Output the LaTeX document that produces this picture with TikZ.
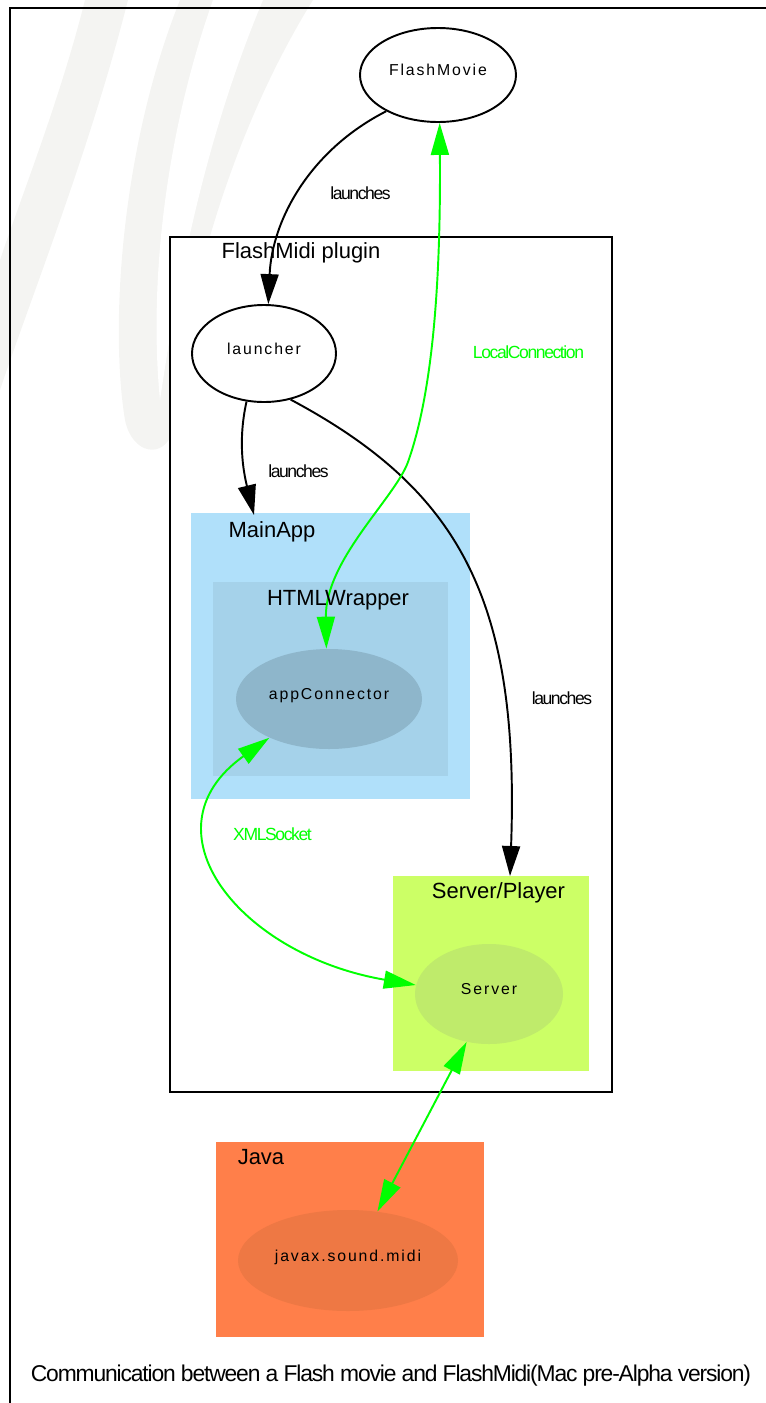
\documentclass[tikz,border=0pt]{standalone}
\usepackage{fontspec}
\setmainfont{Liberation Sans}
\newfontfamily\spacedfont{Liberation Sans}[LetterSpace=12]
\newfontfamily\tightfont{Liberation Sans}[LetterSpace=-8]
\newfontfamily\capfont{Liberation Sans}[LetterSpace=-5]
\usetikzlibrary{backgrounds,shapes,arrows.meta}
\pgfdeclarelayer{bglayer}
\pgfdeclarelayer{edgelayer}
\pgfdeclarelayer{nodelayer}
\pgfsetlayers{bglayer,edgelayer,nodelayer,main}
\definecolor{wmgrey}{RGB}{244,244,242}
\definecolor{linkgreen}{RGB}{0,255,0}
\definecolor{mainblue}{RGB}{176,224,250}
\definecolor{wrapblue}{RGB}{165,210,234}
\definecolor{connblue}{RGB}{142,182,203}
\definecolor{playgreen}{RGB}{204,255,102}
\definecolor{servgreen}{RGB}{191,235,107}
\definecolor{javaorange}{RGB}{255,127,74}
\definecolor{midiorange}{RGB}{238,120,68}
\tikzset{font=\fontsize{10}{12}\selectfont}
\tikzstyle{none}=[inner sep=0pt]
\tikzstyle{proc}=[ellipse,draw,line width=1.1pt,fill=white,inner sep=0pt,text height=6.5pt,text depth=5.6pt,font=\spacedfont\fontsize{9}{11}\selectfont]
\tikzstyle{blob}=[ellipse,inner sep=0pt,text height=6.5pt,text depth=5.6pt,font=\spacedfont\fontsize{9}{11}\selectfont]
\tikzstyle{cluster}=[rectangle,inner sep=0pt,outer sep=0pt]
\tikzstyle{ctitle}=[inner sep=0pt,text height=9pt,text depth=0pt,font=\fontsize{12.5}{15}\selectfont]
\tikzstyle{elabel}=[inner sep=0pt,text height=7.2pt,text depth=0pt,font=\tightfont\fontsize{10}{12}\selectfont]
\tikzstyle{ctext}=[inner sep=0pt,text height=9.3pt,text depth=0pt,font=\capfont\fontsize{13}{15}\selectfont]
\tikzstyle{launch}=[line width=1.1pt,-{Triangle[length=6mm,width=3.6mm]}]
\tikzstyle{link}=[line width=1.1pt,linkgreen,{Triangle[length=6.4mm,width=3.6mm]}-{Triangle[length=6.4mm,width=3.6mm]}]

\begin{document}
\begin{tikzpicture}[x=0.2cm,y=-0.2cm]
	\useasboundingbox (0,0) rectangle (76.6,140.3);
	\begin{pgfonlayer}{bglayer}
		\fill[wmgrey] (8.5,0) .. controls (6,10) and (2,20) .. (0,26) -- (0,39) .. controls (3,30) and (9,15) .. (12.8,0) -- cycle;
		\fill[wmgrey] (18,0) .. controls (12,15) and (11,33) .. (12.5,42) .. controls (13.2,45.5) and (16.5,46) .. (17.3,43) .. controls (18,33) and (22,15) .. (31.3,0) -- cycle;
		\fill[white] (21.3,0) .. controls (16,15) and (15,30) .. (16,40) .. controls (17.5,30) and (20,15) .. (26.3,0) -- cycle;
		\draw[line width=0.7pt] (76.6,0.8) -- (1,0.8) -- (1,140.3);
		\node [style=cluster, draw, fill=white, line width=1.3pt, minimum width=8.84cm, minimum height=17.1cm] (5) at (39.1,66.45) {};
		\node [style=cluster, fill=mainblue, minimum width=5.58cm, minimum height=5.72cm] (6) at (33.05,65.6) {};
		\node [style=cluster, fill=wrapblue, minimum width=4.7cm, minimum height=3.88cm] (7) at (33.05,67.9) {};
		\node [style=cluster, fill=playgreen, minimum width=3.92cm, minimum height=3.9cm] (8) at (49.1,97.35) {};
		\node [style=cluster, fill=javaorange, minimum width=5.36cm, minimum height=3.9cm] (9) at (35,123.95) {};
	\end{pgfonlayer}
	\begin{pgfonlayer}{nodelayer}
		\node [style=proc, minimum width=3.12cm, minimum height=1.88cm] (0) at (43.8,7.5) {FlashMovie};
		\node [style=proc, minimum width=2.88cm, minimum height=1.94cm] (1) at (26.4,35.35) {launcher};
		\node [style=blob, fill=connblue, minimum width=3.72cm, minimum height=2cm] (2) at (32.9,69.9) {appConnector};
		\node [style=blob, fill=servgreen, minimum width=2.96cm, minimum height=2cm] (3) at (48.9,99.4) {Server};
		\node [style=blob, fill=midiorange, minimum width=4.4cm, minimum height=2.02cm] (4) at (34.8,126.05) {javax.sound.midi};
		\node [style=ctitle] (10) at (30.1,25.1) {FlashMidi plugin};
		\node [style=ctitle] (11) at (27.2,52.95) {MainApp};
		\node [style=ctitle] (12) at (33.8,59.75) {HTMLWrapper};
		\node [style=ctitle] (13) at (49.85,89.1) {Server/Player};
		\node [style=ctitle] (14) at (26.1,115.7) {Java};
		\node [style=elabel] (15) at (36.05,19.35) {launches};
		\node [style=elabel] (16) at (29.85,47.15) {launches};
		\node [style=elabel] (17) at (56.2,69.85) {launches};
		\node [style=elabel, text=linkgreen] (18) at (52.85,35.2) {LocalConnection};
		\node [style=elabel, text=linkgreen] (19) at (27.25,83.45) {XMLSocket};
		\node [style=ctext] (20) at (39.1,137.35) {Communication between a Flash movie and FlashMidi(Mac pre-Alpha version)};
		\coordinate (21) at (25.4,51.5);
		\coordinate (22) at (51,87.6);
	\end{pgfonlayer}
	\begin{pgfonlayer}{edgelayer}
		\draw[style=launch] (0.215) .. controls (31,15) and (27.2,22) .. (1.85);
		\draw[style=launch] (1.250) .. controls (23.8,44) and (24.3,47) .. (21);
		\draw[style=launch] (1.300) .. controls (46,49) and (52,60) .. (22);
		\draw[style=link] (0.272) .. controls (44.1,30) and (43,40) .. (40.8,46.2) .. controls (39.5,49.8) and (32.5,56) .. (2.93);
		\draw[style=link] (2.213) .. controls (14,83) and (24,95.5) .. (3.173);
		\draw[style=link] (3.245) -- (4.59);
	\end{pgfonlayer}
\end{tikzpicture}
\end{document}
